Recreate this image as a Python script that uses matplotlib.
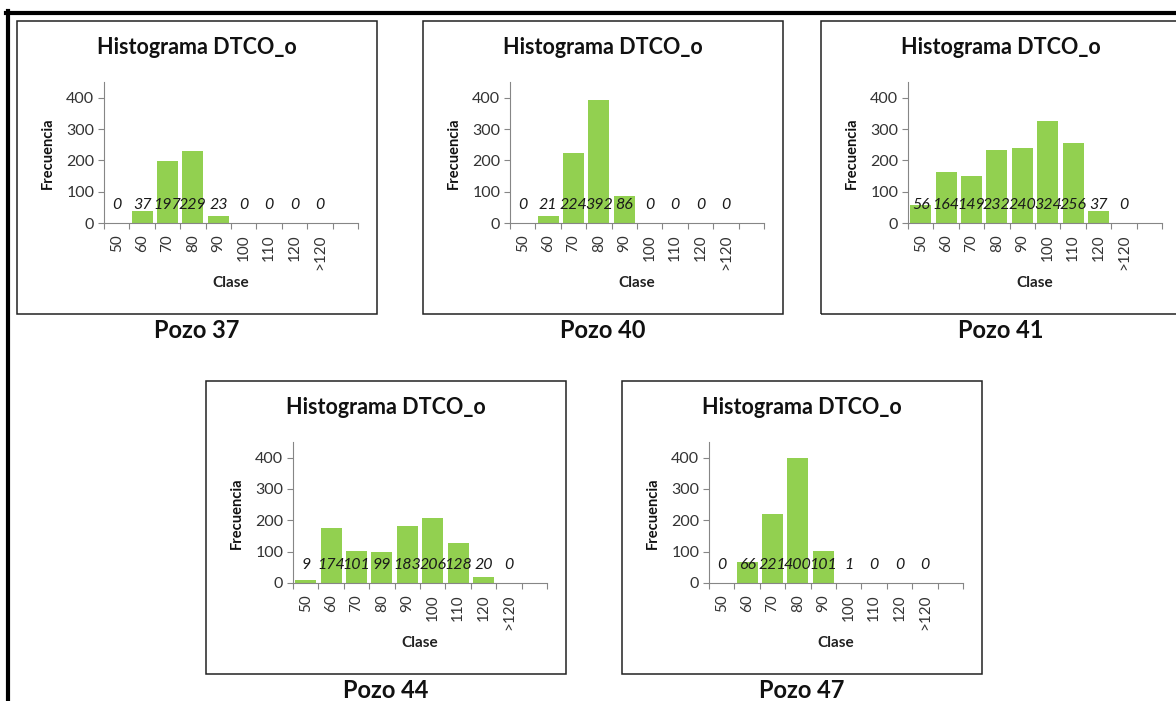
import matplotlib
matplotlib.use("Agg")
import matplotlib.pyplot as plt
from matplotlib.patches import Rectangle
from matplotlib.lines import Line2D

plt.rcParams['font.family'] = ['Lato', 'DejaVu Sans']

# --- datos ---
CLASES = ['50', '60', '70', '80', '90', '100', '110', '120', '>120']
POZOS = ['Pozo 37', 'Pozo 40', 'Pozo 41', 'Pozo 44', 'Pozo 47']
FREC_37 = [0, 37, 197, 229, 23, 0, 0, 0, 0]
FREC_40 = [0, 21, 224, 392, 86, 0, 0, 0, 0]
FREC_41 = [56, 164, 149, 232, 240, 324, 256, 37, 0]
FREC_44 = [9, 174, 101, 99, 183, 206, 128, 20, 0]
FREC_47 = [0, 66, 221, 400, 101, 1, 0, 0, 0]
FRECUENCIAS = [FREC_37, FREC_40, FREC_41, FREC_44, FREC_47]

# esquina superior izquierda de cada recuadro (pixeles)
CAJAS = [(17, 21), (423, 21), (821, 21), (206, 381), (622, 381)]

W, H = 1176, 701
VERDE = '#92D050'
GRIS = '#868686'


def fx(x):
    return x / W


def fy(y):
    return 1 - y / H


def dibujar_panel(fig, bx, by, frec, pozo):
    # recuadro
    fig.add_artist(Rectangle((fx(bx), fy(by + 293)), 360 / W, 293 / H,
                             transform=fig.transFigure, fill=False,
                             edgecolor='#222222', linewidth=1.1))
    ax = fig.add_axes([fx(bx + 87), fy(by + 202), (341 - 87) / W, (202 - 61) / H])
    x = list(range(len(frec)))
    ax.bar(x, frec, width=0.82, color=VERDE)
    for xi, v in zip(x, frec):
        ax.text(xi, 57, str(v), ha='center', va='center', style='italic',
                fontsize=11.5, color='#1a1a1a')
    ax.set_xlim(-0.5, 9.5)
    ax.set_ylim(0, 450)
    ax.set_yticks([0, 100, 200, 300, 400])
    ax.set_xticks([i - 0.5 for i in range(11)])
    ax.set_xticklabels([])
    ax.set_xticks(x, minor=True)
    ax.set_xticklabels(CLASES, minor=True, rotation=90, fontsize=11, color='#333333')
    ax.tick_params(axis='x', which='minor', length=0, pad=8)
    ax.tick_params(axis='x', which='major', length=4, color=GRIS)
    ax.tick_params(axis='y', length=4, color=GRIS, labelsize=11.5, labelcolor='#333333', pad=3)
    for s in ['top', 'right']:
        ax.spines[s].set_visible(False)
    for s in ['left', 'bottom']:
        ax.spines[s].set_color(GRIS)
    ax.set_facecolor('none')

    fig.text(fx(bx + 180), fy(by + 27), 'Histograma DTCO_o', ha='center', va='center',
             fontsize=15.5, fontweight='bold', color='#111111')
    fig.text(fx(bx + 31), fy(by + 132), 'Frecuencia', rotation=90, ha='center', va='center',
             fontsize=10.5, fontweight='bold', color='#111111')
    fig.text(fx(bx + 214), fy(by + 262), 'Clase', ha='center', va='center',
             fontsize=11, fontweight='bold', color='#222222')
    fig.text(fx(bx + 180), fy(by + 309), pozo, ha='center', va='center',
             fontsize=17, fontweight='bold', color='#111111')


fig = plt.figure(figsize=(W / 100, H / 100), dpi=100)

# marco negro del documento
fig.add_artist(Line2D([fx(6), 1.0], [fy(13), fy(13)], transform=fig.transFigure,
                      color='black', linewidth=3))
fig.add_artist(Line2D([fx(8), fx(8)], [fy(11), 0.0], transform=fig.transFigure,
                      color='black', linewidth=3))

for (bx, by), frec, pozo in zip(CAJAS, FRECUENCIAS, POZOS):
    dibujar_panel(fig, bx, by, frec, pozo)

fig.savefig('out.png', dpi=100)
